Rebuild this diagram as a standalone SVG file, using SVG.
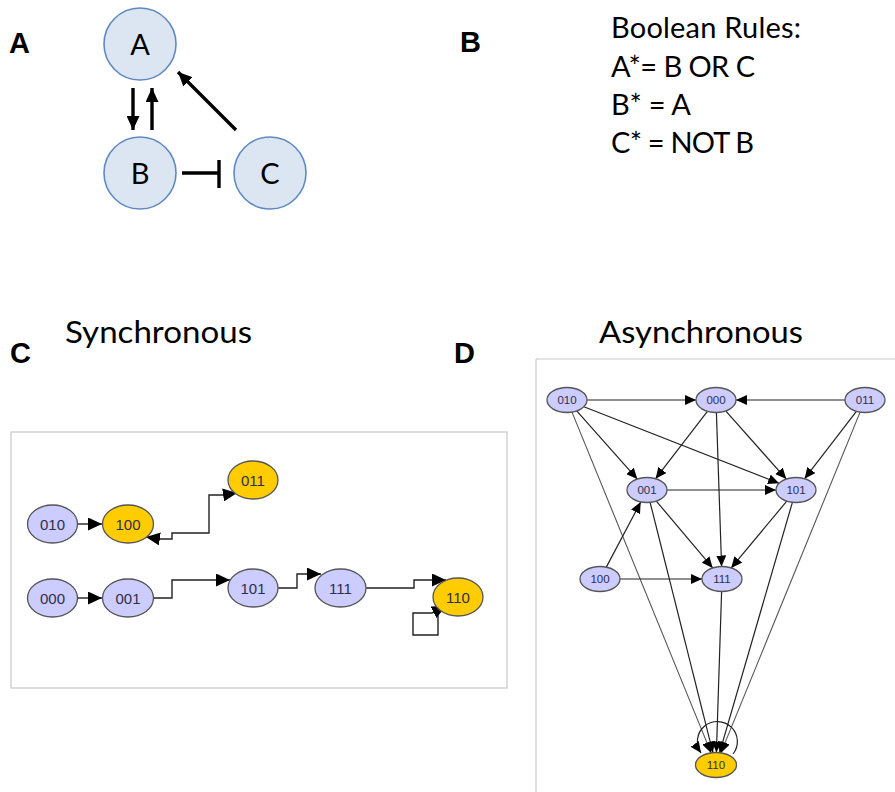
<svg xmlns="http://www.w3.org/2000/svg" width="895" height="792" viewBox="0 0 895 792">
  <style>
    .panel { font-family: "Liberation Sans", Arial, sans-serif; font-weight: bold; font-size: 29px; fill: #000; }
    .title { font-family: Lato, "Open Sans", sans-serif; font-size: 31px; fill: #000; }
    .rule { font-family: Lato, "Open Sans", sans-serif; font-size: 29px; fill: #000; }
    .bigc { fill: #dce6f2; stroke: #5f89c2; stroke-width: 1.6; }
    .bigt { font-family: Lato, "Open Sans", sans-serif; font-size: 29px; fill: #000; text-anchor: middle; }
    .thick { stroke: #000; stroke-width: 3.4; fill: none; }
    .sn { fill: #ccccff; stroke: #555; stroke-width: 1.3; }
    .sg { fill: #ffcc00; stroke: #555; stroke-width: 1.3; }
    .st { font-family: "Liberation Sans", Arial, sans-serif; font-size: 15px; fill: #2e2e4e; text-anchor: middle; }
    .dt { font-family: "Liberation Sans", Arial, sans-serif; font-size: 11.5px; fill: #2e2e4e; text-anchor: middle; }
    .se { stroke: #222; stroke-width: 1.4; fill: none; marker-end: url(#ahC); }
    .de { stroke: #222; stroke-width: 1.2; fill: none; marker-end: url(#ahD); }
    .dl { stroke: #555; stroke-width: 1.1; fill: none; marker-end: url(#ahD); }
  </style>
  <defs>
    <marker id="ahBig" markerUnits="userSpaceOnUse" markerWidth="15" markerHeight="13" refX="14" refY="6.5" orient="auto">
      <path d="M0,0 L14,6.5 L0,13 z" fill="#000"/>
    </marker>
    <marker id="ahC" markerUnits="userSpaceOnUse" markerWidth="15" markerHeight="13" refX="14" refY="6.5" orient="auto-start-reverse">
      <path d="M0,0 L14,6.5 L0,13 z" fill="#000"/>
    </marker>
    <marker id="ahD" markerUnits="userSpaceOnUse" markerWidth="12" markerHeight="10" refX="11" refY="5" orient="auto">
      <path d="M0,0 L11,5 L0,10 z" fill="#000"/>
    </marker>
  </defs>

  <rect width="895" height="792" fill="#fff"/>

  <!-- panel letters and headings -->
  <text class="panel" x="9" y="53">A</text>
  <text class="panel" x="460" y="52">B</text>
  <text class="panel" x="10" y="363">C</text>
  <text class="panel" x="454" y="363">D</text>
  <text class="title" x="65" y="343" textLength="187" lengthAdjust="spacingAndGlyphs">Synchronous</text>
  <text class="title" x="599" y="343" textLength="204" lengthAdjust="spacingAndGlyphs">Asynchronous</text>

  <!-- Boolean rules -->
  <g id="rules">
    <text class="rule" x="611" y="38" textLength="190">Boolean Rules:</text>
    <text class="rule" x="611" y="77" textLength="144">A*= B OR C</text>
    <text class="rule" x="611" y="115" textLength="80">B* = A</text>
    <text class="rule" x="611" y="153" textLength="143">C* = NOT B</text>
  </g>

  <!-- network A/B/C -->
  <g id="net-connectors">
    <line class="thick" x1="133" y1="88" x2="133" y2="130" marker-end="url(#ahBig)"/>
    <line class="thick" x1="152" y1="130" x2="152" y2="88" marker-end="url(#ahBig)"/>
    <line class="thick" x1="236" y1="130" x2="178" y2="72" marker-end="url(#ahBig)"/>
    <line class="thick" x1="182" y1="173" x2="219" y2="173"/>
    <line class="thick" x1="219" y1="160" x2="219" y2="188"/>
  </g>
  <g id="net-A"><circle class="bigc" cx="140" cy="44" r="36"/><text class="bigt" x="140" y="55">A</text></g>
  <g id="net-B"><circle class="bigc" cx="140" cy="173" r="36"/><text class="bigt" x="140" y="184">B</text></g>
  <g id="net-C"><circle class="bigc" cx="270" cy="173" r="36"/><text class="bigt" x="270" y="184">C</text></g>

  <!-- synchronous state graph -->
  <rect x="11" y="432" width="496" height="256" fill="#fff" stroke="#c8c8c8" stroke-width="1.2"/>
  <g id="sync-connectors">
    <line class="se" x1="78" y1="524" x2="102" y2="524"/>
    <path class="se" d="M146,537 L160,539 H172 V533 H209 V495 H223 L237,493" marker-start="url(#ahC)"/>
    <line class="se" x1="78" y1="598" x2="102" y2="598"/>
    <path class="se" d="M153,598 H172 V580 H230"/>
    <path class="se" d="M278,588 H297 V574 H321"/>
    <path class="se" d="M366,588 H414 V580 H446"/>
    <path class="se" d="M438,609 V635 H413 V613 H432 L446,606"/>
  </g>
  <g id="s010"><ellipse class="sn" cx="52.5" cy="524" rx="25" ry="19"/><text class="st" x="52.5" y="529.5">010</text></g>
  <g id="s100"><ellipse class="sg" cx="128" cy="524" rx="25.5" ry="19"/><text class="st" x="128" y="529.5">100</text></g>
  <g id="s011"><ellipse class="sg" cx="253" cy="480" rx="25" ry="19"/><text class="st" x="253" y="485.5">011</text></g>
  <g id="s000"><ellipse class="sn" cx="52.5" cy="598" rx="25" ry="19"/><text class="st" x="52.5" y="603.5">000</text></g>
  <g id="s001"><ellipse class="sn" cx="128" cy="598" rx="25.5" ry="19"/><text class="st" x="128" y="603.5">001</text></g>
  <g id="s101"><ellipse class="sn" cx="253" cy="588" rx="25" ry="19"/><text class="st" x="253" y="593.5">101</text></g>
  <g id="s111"><ellipse class="sn" cx="340.5" cy="588" rx="25.5" ry="19"/><text class="st" x="340.5" y="593.5">111</text></g>
  <g id="s110"><ellipse class="sg" cx="458" cy="597" rx="25" ry="19"/><text class="st" x="458" y="602.5">110</text></g>

  <!-- asynchronous state graph -->
  <g id="async-frame" stroke="#c8c8c8" stroke-width="1.2">
    <line x1="536" y1="359" x2="895" y2="359"/>
    <line x1="536" y1="359" x2="536" y2="792"/>
  </g>
  <g id="async-connectors">
    <line class="de" x1="587" y1="400" x2="696" y2="400"/>
    <line class="de" x1="845" y1="400" x2="736" y2="400"/>
    <line class="de" x1="576.7" y1="410.9" x2="637.3" y2="479.1"/>
    <line class="de" x1="583.9" y1="406.7" x2="779.1" y2="483.3"/>
    <line class="dl" x1="572" y1="412.1" x2="711.1" y2="752.9"/>
    <line class="de" x1="707.4" y1="411.3" x2="655.6" y2="478.7"/>
    <line class="de" x1="725.7" y1="410.9" x2="786.3" y2="479.1"/>
    <line class="de" x1="716.4" y1="412.5" x2="721.6" y2="566.5"/>
    <line class="de" x1="856.4" y1="411.3" x2="804.6" y2="478.7"/>
    <line class="dl" x1="860.1" y1="412.1" x2="720.9" y2="752.9"/>
    <line class="de" x1="667" y1="490" x2="776" y2="490"/>
    <line class="de" x1="656.3" y1="501.1" x2="712.7" y2="567.9"/>
    <line class="de" x1="650.1" y1="502.3" x2="712.9" y2="752.7"/>
    <line class="de" x1="606.3" y1="567.1" x2="640.7" y2="502.1"/>
    <line class="de" x1="620" y1="579" x2="702" y2="579"/>
    <line class="de" x1="786.8" y1="501.1" x2="731.2" y2="567.9"/>
    <line class="de" x1="792.4" y1="502.3" x2="719.6" y2="752.7"/>
    <line class="de" x1="721.6" y1="591.5" x2="716.4" y2="752.5"/>
    <path class="de" d="M733,754 A20,20 0 1 0 701,753"/>
  </g>
  <g id="d010"><ellipse class="sn" cx="567" cy="400" rx="20" ry="12.5"/><text class="dt" x="567" y="404">010</text></g>
  <g id="d000"><ellipse class="sn" cx="716" cy="400" rx="20" ry="12.5"/><text class="dt" x="716" y="404">000</text></g>
  <g id="d011"><ellipse class="sn" cx="865" cy="400" rx="20" ry="12.5"/><text class="dt" x="865" y="404">011</text></g>
  <g id="d001"><ellipse class="sn" cx="647" cy="490" rx="20" ry="12.5"/><text class="dt" x="647" y="494">001</text></g>
  <g id="d101"><ellipse class="sn" cx="796" cy="490" rx="20" ry="12.5"/><text class="dt" x="796" y="494">101</text></g>
  <g id="d100"><ellipse class="sn" cx="600" cy="579" rx="20" ry="12.5"/><text class="dt" x="600" y="583">100</text></g>
  <g id="d111"><ellipse class="sn" cx="722" cy="579" rx="20" ry="12.5"/><text class="dt" x="722" y="583">111</text></g>
  <g id="d110"><ellipse class="sg" cx="716" cy="765" rx="20.5" ry="12.5"/><text class="dt" x="716" y="769">110</text></g>
</svg>
